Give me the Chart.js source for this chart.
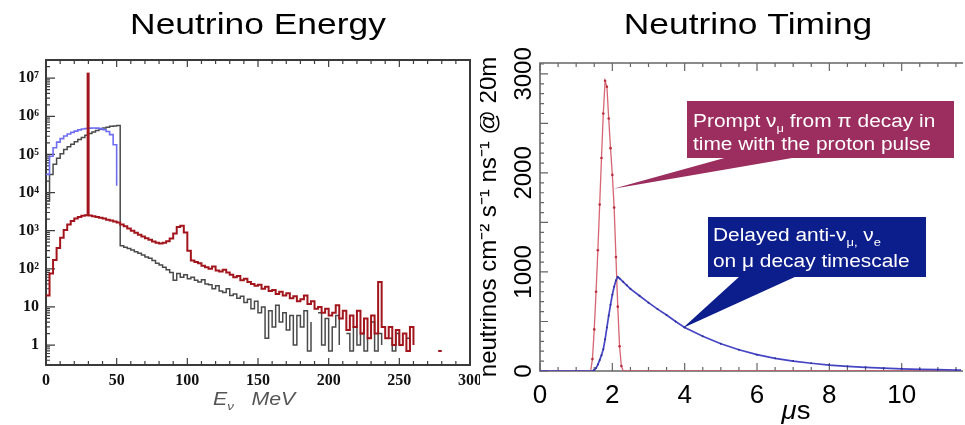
<!DOCTYPE html>
<html><head><meta charset="utf-8">
<script src="https://cdn.jsdelivr.net/npm/chart.js"></script>
<style>
html,body{margin:0;padding:0;background:#fff;}
#wrap{position:relative;width:965px;height:425px;overflow:hidden;background:#fff;}
canvas{position:absolute;top:0;}
#energy{left:0;}
#timing{left:480px;}
</style></head><body>
<div id="wrap"><canvas id="energy" width="480" height="425"></canvas><canvas id="timing" width="485" height="425"></canvas></div>
<script>
// ---------------- DATA ----------------
// Energy histograms: bins of 2.5 MeV starting at 0 MeV (120 bins, 0-300 MeV)
const binWidthMeV = 2.5;
// anti-nu_mu (black)
const numuBarFlux = [
  6000, 30000, 55000, 80000, 105000, 135000, 160000, 185000, 215000, 245000,
  280000, 320000, 355000, 390000, 425000, 460000, 495000, 520000, 545000, 560000,
  570000, 400, 370, 340, 310, 280, 255, 230, 205, 190,
  165, 140, 125, 110, 95, 80, 50, 75, 60, 70,
  55, 60, 50, 45, 52, 40, 38, 30, 36, 26,
  24, 30, 20, 22, 17, 19, 13, 16, 9, 14,
  7, 10, 1.5, 8, 3, 11, 4, 7, 2.5, 6,
  1, 6, 3, 8, 0.7, 4, 0, 7, 1, 5,
  0.7, 3, 6, 1, 0, 2, 0.7, 3, 1, 2,
  0.7, 1.5, 4, 0.7, 2, 1, 0, 1.5, 0.7, 2,
  1, 0, 1.5, 0.7, 0, 1, 0, 0, 0, 0.7,
  0, 0.7, 0, 0, 0, 0, 0, 0, 0, 0
];
// nu_e (blue)
const nueFlux = [
  30000, 90000, 150000, 210000, 260000, 305000, 345000, 380000, 410000, 440000,
  465000, 480000, 490000, 495000, 490000, 475000, 445000, 400000, 330000, 180000,
  15000, 0, 0, 0, 0, 0, 0, 0, 0.7, 0,
  0, 0, 0, 0, 0, 0, 0, 0, 0, 0,
  0, 0, 0.7, 0, 0, 0, 0, 0, 0, 0,
  0, 0, 0, 0, 0, 0, 0, 0, 0, 0,
  0, 0, 0, 0, 0, 0, 0.7, 0, 0, 1.4,
  0, 0, 0, 0, 0, 0, 0, 0, 0, 0,
  0, 0, 0, 0, 0, 0, 0, 0, 0, 0,
  0, 0, 0, 0, 0, 0, 0, 0, 0, 0,
  0, 0, 0, 0, 0, 0, 0, 0, 0, 0,
  0, 0, 0, 0, 0, 0, 0, 0, 0, 0
];
// nu_mu continuum (red)
const numuFlux = [
  20, 75, 170, 350, 650, 1050, 1450, 1800, 2100, 2300,
  2450, 2550, 2500, 2400, 2300, 2200, 2100, 1950, 1850, 1750,
  1650, 1450, 1300, 1150, 1000, 880, 780, 700, 630, 580,
  520, 480, 460, 480, 530, 620, 850, 1250, 1350, 900,
  300, 165, 150, 140, 120, 110, 100, 115, 90, 85,
  95, 80, 70, 60, 65, 50, 55, 45, 40, 36,
  38, 30, 34, 26, 28, 22, 25, 20, 23, 17,
  19, 14, 16, 20, 12, 14, 9, 10, 7, 9,
  6, 7, 11, 5, 8, 2.5, 6, 3, 8, 2,
  5, 1.5, 6, 2, 45, 3, 1.5, 3, 1, 2.5,
  1, 2, 0.7, 3, 1, 0, 1.5, 0, 1, 0,
  0, 0.7, 0.7, 0, 0, 0, 0, 0.7, 0, 0
];
// mono-energetic prompt nu_mu line (red spike)
const promptLineEnergy = [29.8, 29.8];
const promptLineValue = [2550, 1.4e7];
const energyTickValues = [1, 10, 100, 1e3, 1e4, 1e5, 1e6, 1e7];
const energyTickLabels = ['1', '10', '10²', '10³', '10⁴', '10⁵', '10⁶', '10⁷'];

// Timing (μs) curves
const promptTime = [0, 1.0, 1.4, 1.45, 1.5, 1.55, 1.6, 1.65, 1.7, 1.75, 1.8, 1.85, 1.9, 1.95, 2.0, 2.05, 2.1, 2.15, 2.2, 2.25, 2.3, 4, 8, 12];
const promptRate = [0, 0, 0, 120, 420, 800, 1220, 1680, 2150, 2600, 2930, 2870, 2550, 2250, 1980, 1650, 1150, 650, 250, 50, 0, 0, 0, 0];
const delayedTime = [0, 1.0, 1.44, 1.5, 1.55, 1.6, 1.65, 1.7, 1.75, 1.8, 1.85, 1.9, 1.95, 2.0, 2.05, 2.1, 2.15, 2.2, 2.3, 2.4, 2.5, 2.75, 3.0, 3.25, 3.5, 3.75, 4.0, 4.5, 5.0, 5.5, 6.0, 6.5, 7.0, 7.5, 8.0, 8.5, 9.0, 9.5, 10.0, 10.5, 11.0, 11.5, 12.0];
const delayedRate = [0, 0, 0, 10, 30, 65, 110, 160, 220, 320, 440, 560, 670, 770, 850, 915, 950, 935, 900, 865, 830, 760, 690, 625, 565, 500, 440, 350, 275, 215, 165, 128, 100, 78, 60, 47, 37, 29, 22, 17, 13, 10, 8];
const timeTickValues = [0, 2, 4, 6, 8, 10];
const rateTickValues = [0, 1000, 2000, 3000];
const rateTickLabels = ['0', '1000', '2000', '3000'];
const calloutAnchorTime = [2.03, 3.95];
const calloutAnchorRate = [1840, 434];

// ---------------- HELPERS ----------------
const SANS = '"Liberation Sans", Arial, Helvetica, sans-serif';
const SERIF = '"Liberation Serif", "Times New Roman", serif';

function histPoints(vals) {
  const pts = vals.map((v, i) => ({x: i * binWidthMeV, y: v}));
  pts.push({x: vals.length * binWidthMeV, y: vals[vals.length - 1]});
  return pts;
}
function zipPts(xs, ys) { return xs.map((x, i) => ({x: x, y: ys[i]})); }

function runsWidth(ctx, runs, size, family, sx) {
  let w = 0;
  for (const r of runs) {
    const fs = r.sub ? size * 0.62 : size;
    ctx.font = (r.italic ? 'italic ' : '') + fs + 'px ' + family;
    w += ctx.measureText(r.t).width;
  }
  return w * sx;
}
function drawRuns(ctx, runs, x, y, size, family, color, sx, align) {
  ctx.save();
  const w = runsWidth(ctx, runs, size, family, sx);
  let x0 = x;
  if (align === 'center') x0 = x - w / 2;
  ctx.translate(x0, y);
  ctx.scale(sx, 1);
  ctx.fillStyle = color;
  ctx.textAlign = 'left';
  ctx.textBaseline = 'alphabetic';
  let cx = 0;
  for (const r of runs) {
    const fs = r.sub ? size * 0.62 : size;
    ctx.font = (r.italic ? 'italic ' : '') + fs + 'px ' + family;
    ctx.fillText(r.t, cx, r.sub ? size * 0.28 : 0);
    cx += ctx.measureText(r.t).width;
  }
  ctx.restore();
}
function seg(ctx, x1, y1, x2, y2) { ctx.moveTo(x1, y1); ctx.lineTo(x2, y2); }

// ---------------- ENERGY CHART ----------------
const energyDecor = {
  id: 'energyDecor',
  beforeDatasetsDraw(chart) {
    const {ctx, chartArea: a, scales: {x, y}} = chart;
    ctx.save();
    ctx.strokeStyle = '#3c3c3c';
    ctx.lineWidth = 1.2;
    ctx.beginPath();
    for (let v = 0; v <= 300; v += 10) {
      const px = x.getPixelForValue(v);
      const len = v % 50 === 0 ? 7 : 4;
      seg(ctx, px, a.bottom, px, a.bottom - len);
      seg(ctx, px, a.top, px, a.top + len);
    }
    for (let d = -1; d <= 7; d++) {
      for (let m = 1; m <= 9; m++) {
        const v = m * Math.pow(10, d);
        if (v < y.min || v > y.max) continue;
        const py = y.getPixelForValue(v);
        seg(ctx, a.left, py, a.left + (m === 1 ? 9 : 4), py);
      }
    }
    ctx.stroke();
    ctx.lineWidth = 2;
    ctx.strokeStyle = '#3a3a3a';
    ctx.strokeRect(a.left, a.top, a.right - a.left, a.bottom - a.top);
    ctx.restore();
  },
  afterDraw(chart) {
    const ctx = chart.ctx;
    drawRuns(ctx, [{t: 'Neutrino Energy'}], 258, 34, 30, SANS, '#000', 1.18, 'center');
    drawRuns(ctx, [{t: 'E', italic: 1}, {t: 'ν', italic: 1, sub: 1}, {t: '   MeV', italic: 1}], 213, 405, 19, SANS, '#555', 1.12, 'left');
  }
};

new Chart(document.getElementById('energy'), {
  type: 'line',
  data: {
    datasets: [
      {label: 'νμ prompt', data: zipPts(promptLineEnergy, promptLineValue), borderColor: '#a3151c', borderWidth: 3, pointRadius: 0, order: 0},
      {label: 'νμ', data: histPoints(numuFlux), borderColor: '#a3151c', borderWidth: 2, pointRadius: 0, stepped: 'before', order: 1},
      {label: 'νe', data: histPoints(nueFlux), borderColor: '#6e6ef2', borderWidth: 1.6, pointRadius: 0, stepped: 'before', order: 2},
      {label: 'anti-νμ', data: histPoints(numuBarFlux), borderColor: '#4a4a4a', borderWidth: 1.5, pointRadius: 0, stepped: 'before', order: 3}
    ]
  },
  options: {
    responsive: false, animation: false, devicePixelRatio: 1,
    layout: {padding: {top: 60, right: 10, left: 0, bottom: 0}},
    plugins: {legend: {display: false}, tooltip: {enabled: false}, title: {display: false}},
    scales: {
      x: {
        type: 'linear', min: 0, max: 300,
        afterFit(s) { s.height = 60; s.paddingLeft = 0; s.paddingRight = 0; },
        grid: {display: false, drawTicks: false}, border: {display: false},
        ticks: {stepSize: 50, padding: 6, color: '#111', maxRotation: 0, autoSkip: false,
          font: {family: SERIF, size: 16, weight: 'bold'}}
      },
      y: {
        type: 'logarithmic', min: 0.34, max: 3e7,
        afterFit(s) { s.width = 46; s.paddingTop = 0; s.paddingBottom = 0; },
        afterBuildTicks(s) { s.ticks = energyTickValues.map(v => ({value: v, major: true})); },
        grid: {display: false, drawTicks: false}, border: {display: false},
        ticks: {callback: (v, i) => energyTickLabels[i], padding: 7, color: '#111', autoSkip: false,
          font: {family: SERIF, size: 16, weight: 'bold'}}
      }
    }
  },
  plugins: [energyDecor]
});

// ---------------- TIMING CHART ----------------
const callouts = [
  {fill: '#9b2d5f', box: [207, 101, 267, 57], base: [248, 318], textX: 213, baselines: [127, 150],
   lines: [[{t: 'Prompt ν'}, {t: 'μ', sub: 1}, {t: ' from π decay in'}], [{t: 'time with the proton pulse'}]]},
  {fill: '#0c1d8c', box: [228, 217, 218, 60], base: [260, 317], textX: 233, baselines: [241, 267],
   lines: [[{t: 'Delayed anti-ν'}, {t: 'μ,', sub: 1}, {t: ' ν'}, {t: 'e', sub: 1}], [{t: 'on μ decay timescale'}]]}
];

const timingDecor = {
  id: 'timingDecor',
  beforeDatasetsDraw(chart) {
    const {ctx, chartArea: a, scales: {x, y}} = chart;
    ctx.save();
    ctx.strokeStyle = '#666';
    ctx.lineWidth = 1.2;
    ctx.beginPath();
    for (let v = 0; v <= 3100; v += 100) {
      const py = y.getPixelForValue(v);
      seg(ctx, a.left, py, a.left + (v % 500 === 0 ? 8 : 4), py);
    }
    for (let v = 0; v <= 11.5; v += 0.5) {
      const px = x.getPixelForValue(v);
      const len = v % 2 === 0 ? 8 : 4;
      seg(ctx, px, a.bottom, px, a.bottom - len);
      seg(ctx, px, a.top, px, a.top + len);
    }
    ctx.stroke();
    ctx.lineWidth = 1.6;
    ctx.beginPath();
    seg(ctx, a.right + 2, a.top, a.left, a.top);
    ctx.lineTo(a.left, a.bottom);
    ctx.lineTo(a.right + 2, a.bottom);
    ctx.stroke();
    ctx.restore();
  },
  afterDraw(chart) {
    const {ctx, scales: {x, y}} = chart;
    drawRuns(ctx, [{t: 'Neutrino Timing'}], 268, 34, 30, SANS, '#000', 1.18, 'center');
    drawRuns(ctx, [{t: 'μ', italic: 1}, {t: 's'}], 316, 419, 25, SANS, '#000', 1.1, 'center');
    callouts.forEach((c, i) => {
      const tx = x.getPixelForValue(calloutAnchorTime[i]);
      const ty = y.getPixelForValue(calloutAnchorRate[i]);
      const [bx, by, bw, bh] = c.box;
      ctx.save();
      ctx.fillStyle = c.fill;
      ctx.fillRect(bx, by, bw, bh);
      ctx.beginPath();
      ctx.moveTo(c.base[0], by + bh - 1);
      ctx.lineTo(tx, ty);
      ctx.lineTo(c.base[1], by + bh - 1);
      ctx.closePath();
      ctx.fill();
      ctx.restore();
      c.lines.forEach((ln, j) => drawRuns(ctx, ln, c.textX, c.baselines[j], 18, SANS, '#fff', 1.16, 'left'));
    });
  }
};

new Chart(document.getElementById('timing'), {
  type: 'line',
  data: {
    datasets: [
      {label: 'Prompt νμ', data: zipPts(promptTime, promptRate), borderColor: 'rgba(210,85,100,0.9)', borderWidth: 1.3,
       pointRadius: c => (c.raw && c.raw.y > 0 ? 1.3 : 0), pointBackgroundColor: '#b8303f', pointBorderWidth: 0, order: 1},
      {label: 'Delayed anti-νμ, νe', data: zipPts(delayedTime, delayedRate), borderColor: '#4646c4', borderWidth: 1.7,
       pointRadius: c => (c.raw && c.raw.y > 0 ? 1 : 0), pointBackgroundColor: '#30309a', pointBorderWidth: 0, order: 0}
    ]
  },
  options: {
    responsive: false, animation: false, devicePixelRatio: 1,
    layout: {padding: {top: 63, right: 0, left: 0, bottom: 0}},
    plugins: {legend: {display: false}, tooltip: {enabled: false}, title: {display: false}},
    scales: {
      x: {
        type: 'linear', min: 0, max: 11.64,
        afterFit(s) { s.height = 54; s.paddingLeft = 0; s.paddingRight = 0; },
        afterBuildTicks(s) { s.ticks = timeTickValues.map(v => ({value: v})); },
        grid: {display: false, drawTicks: false}, border: {display: false},
        ticks: {padding: 9, color: '#000', maxRotation: 0, autoSkip: false, font: {family: SANS, size: 26}}
      },
      y: {
        type: 'linear', min: 0, max: 3110,
        afterFit(s) { s.width = 60; s.paddingTop = 0; s.paddingBottom = 0; },
        afterBuildTicks(s) { s.ticks = rateTickValues.map(v => ({value: v})); },
        grid: {display: false, drawTicks: false}, border: {display: false},
        ticks: {callback: (v, i) => rateTickLabels[i], minRotation: 90, maxRotation: 90, crossAlign: 'center', padding: -11,
          color: '#000', autoSkip: false, font: {family: SANS, size: 24}},
        title: {display: true, text: 'neutrinos cm⁻² s⁻¹ ns⁻¹ @ 20m', color: '#000',
          font: {family: SANS, size: 24}, padding: {top: -5, bottom: 0}}
      }
    }
  },
  plugins: [timingDecor]
});
</script>
</body></html>
